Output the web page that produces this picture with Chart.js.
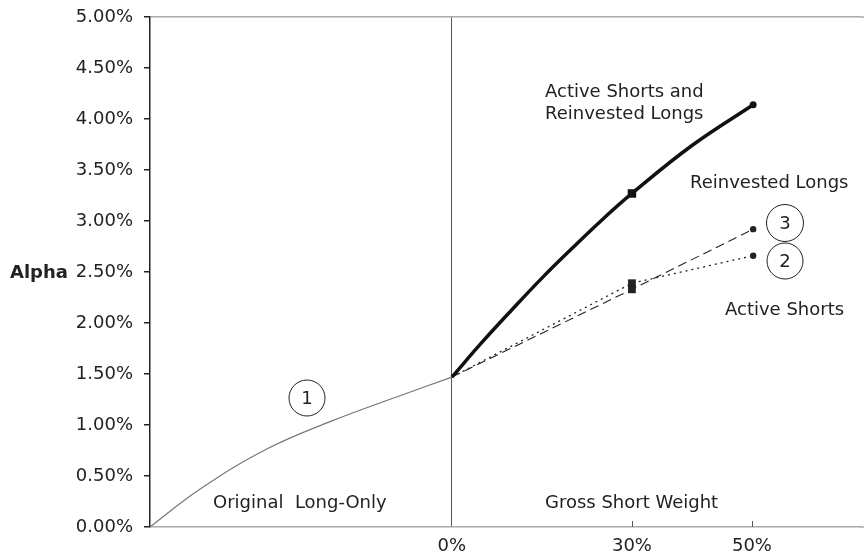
<!DOCTYPE html>
<html>
<head>
<meta charset="utf-8">
<script src="https://cdn.jsdelivr.net/npm/chart.js@4.4.1/dist/chart.umd.min.js"></script>
<style>
  html, body { margin: 0; padding: 0; background: #fff; }
  #wrap { width: 864px; height: 557px; }
</style>
</head>
<body>
<div id="wrap"><canvas id="chart" width="864" height="557"></canvas></div>
<script>
// values (x = gross short weight %, y = alpha %)
const longOnlyX = [-50.3, -42, -31, -20, -9, 0];
const longOnlyY = [0, 0.37, 0.76, 1.04, 1.28, 1.47];

const comboX = [0, 5, 10, 15, 20, 25, 30, 40, 50.2];
const comboY = [1.47, 1.81, 2.13, 2.44, 2.73, 3.01, 3.27, 3.74, 4.14];

const reinvestX = [0, 30, 50.2];
const reinvestY = [1.47, 2.33, 2.92];

const activeX = [0, 30, 50.2];
const activeY = [1.47, 2.39, 2.66];

const xTickValues = [0, 30, 50];
const xTickLabels = ['0%', '30%', '50%'];
const yTickStep = 0.5;

const FONT = '"DejaVu Sans", "Liberation Sans", sans-serif';
const INK = '#222';

function pts(xs, ys) {
  return xs.map((x, i) => ({ x: x, y: ys[i] }));
}

// marker only on the 30% point and the end point
function markerRadius(xs, mid, end) {
  return xs.map((x, i) => i === xs.length - 1 ? end : (x === 30 ? mid : 0));
}
function markerStyle(xs) {
  return xs.map((x, i) => i === xs.length - 1 ? 'circle' : 'rect');
}

const annotations = {
  id: 'annotations',
  afterDraw(chart) {
    const ctx = chart.ctx;
    const area = chart.chartArea;
    const xs = chart.scales.x;
    const ys = chart.scales.y;
    ctx.save();

    // top frame line runs to the right edge of the picture
    ctx.strokeStyle = '#aaa';
    ctx.lineWidth = 1.5;
    ctx.beginPath();
    ctx.moveTo(area.right, area.top);
    ctx.lineTo(chart.width, area.top);
    ctx.moveTo(area.right, area.bottom);
    ctx.lineTo(chart.width, area.bottom);
    ctx.stroke();

    // short inward tick marks on the x axis
    ctx.strokeStyle = '#555';
    ctx.lineWidth = 1;
    xTickValues.forEach(v => {
      if (v === 0) return;
      const px = Math.round(xs.getPixelForValue(v)) + 0.5;
      ctx.beginPath();
      ctx.moveTo(px, area.bottom - 6);
      ctx.lineTo(px, area.bottom);
      ctx.stroke();
    });

    ctx.fillStyle = INK;
    ctx.textAlign = 'left';

    // axis title sits level with the 2.50% label
    ctx.font = 'bold 18px ' + FONT;
    ctx.textBaseline = 'middle';
    ctx.fillText('Alpha', 10, ys.getPixelForValue(2.5) + 1);

    ctx.font = '18px ' + FONT;
    ctx.textBaseline = 'alphabetic';
    ctx.fillText('Active Shorts and', 545, 97);
    ctx.fillText('Reinvested Longs', 545, 119);
    ctx.fillText('Reinvested Longs', 690, 188);
    ctx.fillText('Active Shorts', 725, 315);
    ctx.fillText('Original  Long-Only', 213, 508);
    ctx.fillText('Gross Short Weight', 545, 508);

    // circled series numbers
    const circles = [
      { t: '1', x: 307, y: 398, r: 18 },
      { t: '3', x: 785, y: 223, r: 18.5 },
      { t: '2', x: 785, y: 261, r: 18 }
    ];
    ctx.strokeStyle = INK;
    ctx.lineWidth = 1;
    ctx.textAlign = 'center';
    ctx.textBaseline = 'middle';
    circles.forEach(c => {
      ctx.beginPath();
      ctx.arc(c.x, c.y, c.r, 0, Math.PI * 2);
      ctx.stroke();
      ctx.fillText(c.t, c.x, c.y + 1);
    });
    ctx.restore();
  }
};

new Chart(document.getElementById('chart'), {
  type: 'line',
  data: {
    datasets: [
      {
        label: 'Original Long-Only',
        data: pts(longOnlyX, longOnlyY),
        borderColor: '#777',
        borderWidth: 1.2,
        tension: 0.4,
        pointRadius: 0
      },
      {
        label: 'Active Shorts and Reinvested Longs',
        data: pts(comboX, comboY),
        borderColor: '#111',
        backgroundColor: '#111',
        borderWidth: 3.5,
        tension: 0.4,
        pointRadius: markerRadius(comboX, 6, 3.5),
        pointStyle: markerStyle(comboX),
        pointBorderWidth: 0
      },
      {
        label: 'Reinvested Longs',
        data: pts(reinvestX, reinvestY),
        borderColor: '#222',
        backgroundColor: '#222',
        borderWidth: 1.1,
        borderDash: [9, 5],
        tension: 0,
        pointRadius: markerRadius(reinvestX, 5.5, 3.2),
        pointStyle: markerStyle(reinvestX),
        pointBorderWidth: 0
      },
      {
        label: 'Active Shorts',
        data: pts(activeX, activeY),
        borderColor: '#222',
        backgroundColor: '#222',
        borderWidth: 1.3,
        borderDash: [2, 4],
        tension: 0,
        pointRadius: markerRadius(activeX, 5.5, 3.2),
        pointStyle: markerStyle(activeX),
        pointBorderWidth: 0
      }
    ]
  },
  options: {
    responsive: false,
    animation: false,
    events: [],
    layout: { padding: { top: 17, right: 0, left: 0, bottom: 0 } },
    plugins: {
      legend: { display: false },
      tooltip: { enabled: false }
    },
    scales: {
      x: {
        type: 'linear',
        min: -50.3,
        max: 68,
        afterBuildTicks: axis => {
          axis.ticks = xTickValues.map(v => ({ value: v }));
        },
        afterFit: axis => {
          axis.height = 30;
          axis.paddingLeft = 0;
          axis.paddingRight = 0;
        },
        ticks: {
          color: INK,
          font: { family: FONT, size: 18 },
          padding: 9,
          maxRotation: 0,
          autoSkip: false,
          callback: (v) => xTickLabels[xTickValues.indexOf(v)]
        },
        grid: {
          color: c => (c.tick && c.tick.value === 0) ? '#555' : 'transparent',
          lineWidth: 1,
          drawTicks: false
        },
        border: { display: true, color: '#aaa', width: 1.5 }
      },
      y: {
        min: 0,
        max: 5,
        afterFit: axis => {
          axis.width = 150;
          axis.paddingTop = 0;
          axis.paddingBottom = 0;
        },
        ticks: {
          stepSize: yTickStep,
          color: INK,
          font: { family: FONT, size: 18 },
          padding: 11,
          callback: v => v.toFixed(2) + '%'
        },
        grid: {
          color: c => (c.tick && c.tick.value === 5) ? '#aaa' : 'transparent',
          tickColor: '#222',
          tickLength: 6,
          lineWidth: 1.5
        },
        border: { display: true, color: '#222', width: 1.5 }
      }
    }
  },
  plugins: [annotations]
});
</script>
</body>
</html>
